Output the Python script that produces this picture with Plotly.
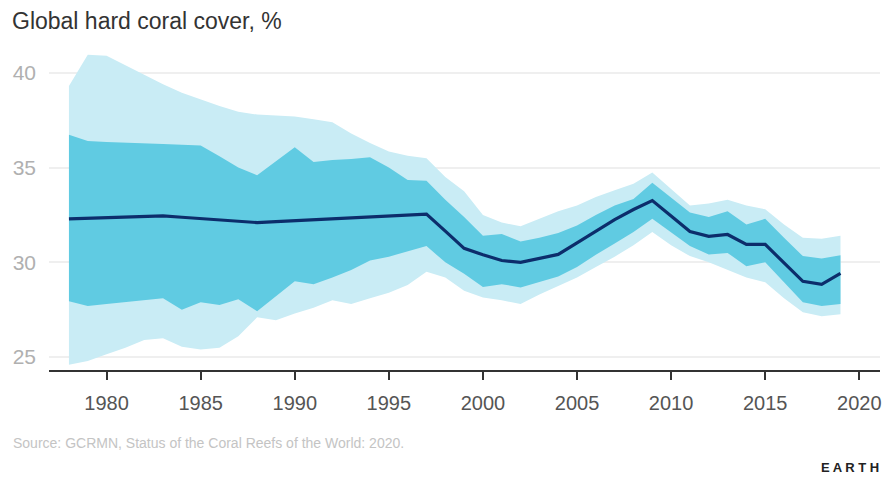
import plotly.graph_objects as go

years = list(range(1978, 2020))

mean_cover = [32.30, 32.33, 32.36, 32.39, 32.42, 32.45, 32.38, 32.31, 32.24, 32.17,
              32.10, 32.15, 32.20, 32.25, 32.30, 32.35, 32.40, 32.45, 32.50, 32.55,
              31.65, 30.74, 30.40, 30.10, 30.00, 30.20, 30.42, 31.03, 31.65, 32.26,
              32.79, 33.26, 32.45, 31.63, 31.37, 31.47, 30.95, 30.95, 29.97, 29.00,
              28.84, 29.42]

inner_upper = [36.74, 36.40, 36.35, 36.30, 36.27, 36.24, 36.20, 36.17, 35.60, 35.00,
               34.60, 35.35, 36.08, 35.30, 35.40, 35.45, 35.55, 35.00, 34.35, 34.30,
               33.30, 32.40, 31.40, 31.50, 31.10, 31.30, 31.55, 31.95, 32.50, 33.00,
               33.35, 34.20, 33.40, 32.63, 32.40, 32.70, 32.00, 32.30, 31.30, 30.33,
               30.20, 30.37]

inner_lower = [27.95, 27.70, 27.80, 27.90, 28.00, 28.10, 27.50, 27.90, 27.75, 28.05,
               27.42, 28.20, 29.00, 28.85, 29.20, 29.60, 30.10, 30.30, 30.60, 30.86,
               30.00, 29.40, 28.70, 28.85, 28.68, 28.95, 29.25, 29.75, 30.40, 31.00,
               31.60, 32.30, 31.60, 30.86, 30.42, 30.50, 29.80, 30.00, 28.95, 27.90,
               27.70, 27.80]

outer_upper = [39.30, 40.95, 40.90, 40.40, 39.90, 39.40, 38.95, 38.60, 38.25, 37.95,
               37.80, 37.75, 37.70, 37.55, 37.40, 36.80, 36.30, 35.85, 35.62, 35.50,
               34.50, 33.75, 32.50, 32.10, 31.90, 32.30, 32.70, 33.00, 33.45, 33.80,
               34.15, 34.74, 33.85, 33.00, 33.10, 33.30, 33.00, 32.80, 32.00, 31.30,
               31.25, 31.40]

outer_lower = [24.60, 24.80, 25.15, 25.50, 25.90, 26.00, 25.55, 25.40, 25.50, 26.10,
               27.10, 26.95, 27.30, 27.60, 28.00, 27.80, 28.10, 28.40, 28.80, 29.50,
               29.20, 28.50, 28.15, 28.00, 27.80, 28.30, 28.75, 29.20, 29.75, 30.30,
               30.90, 31.60, 30.90, 30.33, 30.00, 29.60, 29.20, 28.95, 28.10, 27.37,
               27.15, 27.26]

y_ticks = [25, 30, 35, 40]
x_ticks = [1980, 1985, 1990, 1995, 2000, 2005, 2010, 2015, 2020]

LIGHT = "rgb(201,236,245)"
DARK = "rgb(96,203,226)"
NAVY = "#0c2d6b"

fig = go.Figure()
fig.add_trace(go.Scatter(x=years, y=outer_upper, mode="lines", line=dict(width=0, color=LIGHT),
                         hoverinfo="skip", showlegend=False))
fig.add_trace(go.Scatter(x=years, y=outer_lower, mode="lines", line=dict(width=0, color=LIGHT),
                         fill="tonexty", fillcolor=LIGHT, hoverinfo="skip", showlegend=False))
fig.add_trace(go.Scatter(x=years, y=inner_upper, mode="lines", line=dict(width=0, color=DARK),
                         hoverinfo="skip", showlegend=False))
fig.add_trace(go.Scatter(x=years, y=inner_lower, mode="lines", line=dict(width=0, color=DARK),
                         fill="tonexty", fillcolor=DARK, hoverinfo="skip", showlegend=False))
fig.add_trace(go.Scatter(x=years, y=mean_cover, mode="lines", line=dict(width=3.2, color=NAVY),
                         name="Mean", showlegend=False))

plot_h = 477 - 45 - 107
plot_w = 887 - 49 - 5

def px_to_paper_x(px):
    return (px - 49) / plot_w

def px_to_paper_y(py):
    return (477 - 107 - py) / plot_h

fig.update_layout(
    width=887, height=477,
    margin=dict(l=49, r=5, t=45, b=107),
    paper_bgcolor="white", plot_bgcolor="white",
    font=dict(family="Liberation Sans, Arial, sans-serif"),
    xaxis=dict(range=[1976.94, 2021.1], tickvals=x_ticks, ticktext=[str(v) for v in x_ticks],
               showgrid=False, zeroline=False, showline=True, linecolor="#333", linewidth=2,
               ticks="outside", ticklen=8, tickwidth=2, tickcolor="#333",
               tickfont=dict(size=20, color="#555"), ticklabelstandoff=6),
    yaxis=dict(range=[24.32, 41.47], tickvals=y_ticks, showgrid=True, gridcolor="#efefef",
               gridwidth=2, zeroline=False, showline=False, ticks="",
               tickfont=dict(size=21, color="#b0b0b0"), ticklabelstandoff=12),
    annotations=[
        dict(text="Global hard coral cover, %", xref="paper", yref="paper",
             x=px_to_paper_x(10), y=px_to_paper_y(21), xanchor="left", yanchor="middle",
             showarrow=False, font=dict(size=23, color="#333")),
        dict(text="Source: GCRMN, Status of the Coral Reefs of the World: 2020.",
             xref="paper", yref="paper", showarrow=False, xanchor="left", yanchor="middle",
             x=px_to_paper_x(11), y=px_to_paper_y(443), font=dict(size=14, color="#c4c4c4")),
        dict(text="<b>E A R T H</b>", xref="paper", yref="paper", showarrow=False,
             xanchor="right", yanchor="middle", x=px_to_paper_x(883), y=px_to_paper_y(467),
             font=dict(size=13, color="#222")),
    ],
)

fig.write_html("out.html")
